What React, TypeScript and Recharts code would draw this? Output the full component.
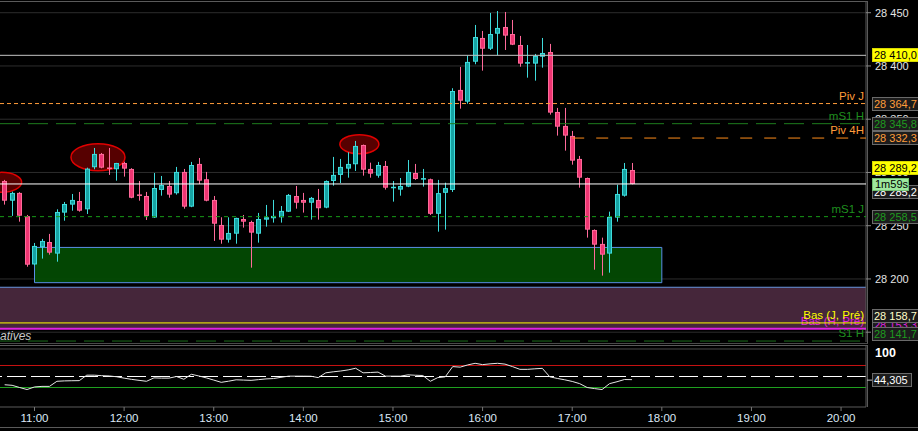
import React from "react";
import {
  ComposedChart,
  Bar,
  Line,
  XAxis,
  YAxis,
  CartesianGrid,
  ReferenceLine,
  ReferenceArea,
  ReferenceDot,
} from "recharts";

// 5-minute bars, first one at 10:40
const firstBar = "10:40";
const barStep = 5;

const opens = [
  28292.0, 28273.5, 28280.8, 28258.9, 28213.6, 28229.8, 28234.7, 28223.8, 28262.3, 28269.8,
  28273.2, 28265.4, 28304.9, 28317.4, 28304.2, 28303.0, 28308.9, 28303.3, 28278.9, 28277.9,
  28257.7, 28283.6, 28287.3, 28280.5, 28300.5, 28267.9, 28308.0, 28293.6, 28274.2, 28250.7,
  28236.9, 28242.5, 28256.3, 28253.5, 28242.5, 28255.7, 28257.0, 28257.9, 28263.2, 28277.9,
  28274.2, 28271.6, 28274.2, 28267.0, 28292.0, 28297.7, 28303.6, 28307.7, 28325.8, 28303.3,
  28297.0, 28306.1, 28285.7, 28283.9, 28286.7, 28299.5, 28293.6, 28293.6, 28261.2, 28280.9,
  28283.6, 28377.5, 28366.5, 28404.0, 28426.3, 28416.2, 28430.3, 28436.6, 28430.0, 28419.7,
  28402.5, 28402.2, 28408.7, 28413.1, 28356.8, 28343.7, 28334.3, 28312.7, 28294.8, 28246.0,
  28232.9, 28223.8, 28257.6, 28278.2, 28302.3,
];
const highs = [
  28293.0, 28282.0, 28281.5, 28260.1, 28233.8, 28237.6, 28242.3, 28265.4, 28272.3, 28279.8,
  28281.7, 28304.5, 28323.0, 28318.3, 28323.0, 28309.0, 28310.1, 28304.0, 28292.0, 28281.7,
  28299.5, 28296.7, 28292.0, 28305.2, 28303.3, 28309.9, 28313.6, 28300.5, 28277.9, 28257.9,
  28257.9, 28257.5, 28260.1, 28254.7, 28262.0, 28269.5, 28274.2, 28268.5, 28279.8, 28287.3,
  28280.8, 28277.0, 28284.5, 28292.5, 28314.6, 28312.7, 28319.0, 28329.6, 28326.2, 28309.2,
  28309.9, 28310.8, 28292.0, 28294.8, 28311.7, 28308.0, 28303.3, 28294.2, 28293.0, 28290.4,
  28379.1, 28399.1, 28409.7, 28438.5, 28432.9, 28449.8, 28451.6, 28450.7, 28443.2, 28428.2,
  28419.7, 28411.3, 28426.3, 28420.7, 28360.6, 28360.6, 28339.0, 28315.5, 28295.2, 28246.5,
  28238.8, 28263.2, 28288.5, 28308.9, 28308.9,
];
const lows = [
  28269.8, 28259.2, 28253.8, 28211.5, 28212.8, 28219.1, 28222.8, 28216.2, 28254.7, 28264.1,
  28263.2, 28261.0, 28303.0, 28303.9, 28297.7, 28292.3, 28296.1, 28275.8, 28273.5, 28255.4,
  28257.3, 28278.2, 28276.3, 28279.2, 28266.0, 28267.4, 28289.2, 28272.9, 28235.7, 28233.1,
  28234.1, 28233.1, 28248.2, 28210.6, 28234.1, 28249.1, 28252.9, 28252.9, 28262.9, 28266.0,
  28262.3, 28255.7, 28255.7, 28266.4, 28287.6, 28290.1, 28295.1, 28301.4, 28297.0, 28295.1,
  28295.1, 28283.9, 28272.6, 28278.2, 28286.2, 28293.0, 28286.7, 28260.1, 28244.4, 28246.3,
  28281.7, 28359.9, 28364.6, 28401.6, 28395.6, 28415.0, 28410.0, 28415.0, 28419.6, 28399.3,
  28389.0, 28386.2, 28398.4, 28354.3, 28334.6, 28320.5, 28307.3, 28285.7, 28238.8, 28208.7,
  28203.1, 28205.9, 28253.8, 28277.3, 28288.8,
];
const closes = [
  28273.5, 28280.8, 28259.4, 28213.4, 28231.0, 28235.7, 28224.7, 28262.9, 28270.4, 28274.2,
  28264.1, 28303.6, 28317.4, 28304.5, 28303.6, 28308.9, 28303.6, 28276.3, 28277.3, 28259.2,
  28285.4, 28288.3, 28279.2, 28300.5, 28267.9, 28307.0, 28292.3, 28273.5, 28251.9, 28236.9,
  28243.2, 28257.3, 28253.8, 28243.5, 28256.3, 28257.9, 28259.2, 28263.9, 28278.9, 28271.6,
  28271.6, 28276.1, 28266.4, 28292.0, 28297.7, 28305.2, 28308.0, 28324.9, 28302.6, 28298.9,
  28307.0, 28285.7, 28286.1, 28287.3, 28300.5, 28293.9, 28294.2, 28261.2, 28280.6, 28285.3,
  28376.5, 28367.4, 28403.8, 28427.2, 28416.2, 28430.0, 28435.7, 28428.5, 28420.0, 28402.2,
  28403.1, 28409.4, 28412.2, 28356.2, 28343.0, 28334.6, 28311.1, 28295.1, 28246.3, 28232.2,
  28222.8, 28258.2, 28279.8, 28303.3, 28289.2,
];

// oscillator in the lower pane
const oscValues = [
  35, 34, 30, 26.3, 31, 32, 32, 41.3, 42, 42.3,
  42.5, 52.4, 52.4, 51.5, 51, 49.5, 47, 44.8, 43, 41.3,
  47.5, 47, 47, 50, 45, 54, 51, 47.5, 43.5, 39.4,
  41.5, 44, 43.5, 43, 44.3, 45.6, 46.3, 48.5, 50.6, 50.6,
  50.6, 50.5, 48, 56.7, 58.5, 60, 62, 65, 56.7, 57.3,
  58, 50.6, 50.6, 50.6, 53, 52.3, 51.8, 41.3, 48, 49.4,
  68, 67, 71, 74, 71.6, 73, 74, 72.5, 68, 63,
  63, 64, 64.8, 49.4, 46.5, 44, 41, 37, 30, 28,
  26.3, 37, 40.5, 44.5, 44.305,
];
const oscLevels = [100, 70, 50, 30];
const oscLast = "44,305";

const hourTicks = [660, 720, 780, 840, 900, 960, 1020, 1080, 1140, 1200];
const hourLabels = ["11:00", "12:00", "13:00", "14:00", "15:00", "16:00", "17:00", "18:00", "19:00", "20:00"];
const priceTicks = [28150, 28200, 28250, 28300, 28350, 28400, 28450];

// horizontal levels, drawn in this order
const levelValues = [28410.0, 28364.7, 28345.8, 28332.3, 28289.2, 28258.5, 28153.3, 28158.7, 28141.7];
const levelNames = ["", "Piv J", "mS1 H", "Piv 4H", "", "mS1 J", "Bas (H, Pré)", "Bas (J, Pré)", "S1 H"];
const pivot4hStart = 1020;
const countdownText = "1m59s";
const hiddenTagText = "28 285,2";

// zones
const supportZone = { from: 660, to: 1080, low: 28196.5, high: 28229.6 };
const prevLowZone = { low: 28153.3, high: 28192.2 };

// circled highs
const haloTimes = [638, 702.5, 877.5];
const haloPrices = [28290.7, 28314.3, 28326.5];
const haloSizes = [[20, 10], [27, 13.5], [19.5, 9.5]];

const X_DOMAIN = [636.9, 1216.7];
const Y_DOMAIN = [28140.8, 28461.0];
const OSC_DOMAIN = [-5.45, 105.45];

const FONT = '"Liberation Sans", Arial, sans-serif';
const UP_FILL = "#16a3a3";
const UP_EDGE = "#3fdcdc";
const DN_FILL = "#ee3572";
const DN_EDGE = "#ff6a9a";
const TAG_BG = "#1c1c1c";
const TAG_BORDER = "#6a6a6a";
const MAIN_MARGIN = { top: 1, right: 0, bottom: 2, left: 0 };

const levelStyles = [
  { stroke: "#c4c4c4", dash: undefined, width: 1, name: "", tagBg: "#ffff00", tagFg: "#000", tagDy: 0 },
  { stroke: "#ff9c3a", dash: "4 3", width: 1, name: "#ff9c3a", tagBg: TAG_BG, tagFg: "#ff9c3a", tagDy: 0 },
  { stroke: "#1d7d1d", dash: "20 8", width: 1, name: "#1f8f1f", tagBg: TAG_BG, tagFg: "#1f9a1f", tagDy: 0 },
  { stroke: "#ff8c1a", dash: "12 12", width: 1, name: "#ff9c3a", tagBg: TAG_BG, tagFg: "#ff9c3a", tagDy: 0 },
  { stroke: "#ffffff", dash: undefined, width: 1, name: "", tagBg: "#ffff00", tagFg: "#000", tagDy: -16 },
  { stroke: "#179a17", dash: "4 4", width: 1, name: "#1f8f1f", tagBg: TAG_BG, tagFg: "#1f9a1f", tagDy: 0 },
  { stroke: "#e020e0", dash: undefined, width: 2, name: "#e020e0", tagBg: TAG_BG, tagFg: "#e020e0", tagDy: -4 },
  { stroke: "#ffff00", dash: undefined, width: 1, name: "#ffff00", tagBg: TAG_BG, tagFg: "#ffffc8", tagDy: -7 },
  { stroke: "#1d6e1d", dash: "20 8", width: 1, name: "#1f8f1f", tagBg: TAG_BG, tagFg: "#1f9a1f", tagDy: -7 },
];

const oscLineStyles = [
  { stroke: "#4a4a4a", dash: undefined, width: 1 },
  { stroke: "#c81212", dash: undefined, width: 1 },
  { stroke: "#ffffff", dash: "19 5", width: 1 },
  { stroke: "#1fa01f", dash: undefined, width: 1 },
];

const toMin = (s: string) => {
  const [h, m] = s.split(":").map(Number);
  return h * 60 + m;
};
const start = toMin(firstBar);

const candles = opens.map((o, i) => ({
  t: start + i * barStep,
  open: o,
  high: highs[i],
  low: lows[i],
  close: closes[i],
  range: [lows[i], highs[i]],
}));
const oscData = oscValues.map((v, i) => ({ t: start + i * barStep, osc: v }));

const fmtPrice = (v: number) => {
  const th = Math.floor(v / 1000);
  const rest = (v - th * 1000).toFixed(1).replace(".", ",");
  return `${th} ${rest.padStart(5, "0")}`;
};
const fmtTick = (v: number) => `${Math.floor(v / 1000)} ${String(v % 1000).padStart(3, "0")}`;

function Candle(props: any) {
  const { x, y, width, height, payload } = props;
  if (!payload) return null;
  const { open, close, high, low } = payload;
  const top = Math.min(y, y + height);
  const bot = Math.max(y, y + height);
  const k = high > low ? (bot - top) / (high - low) : 0;
  const py = (p: number) => top + (high - p) * k;
  const up = close >= open;
  const cx = Math.round(x + width / 2) + 0.5;
  const bTop = py(Math.max(open, close));
  const bBot = py(Math.min(open, close));
  const h = bBot - bTop;
  const edge = up ? UP_EDGE : DN_EDGE;
  return (
    <g>
      <line x1={cx} x2={cx} y1={top} y2={bot} stroke={edge} strokeWidth={1} />
      {h < 2 ? (
        <rect x={cx - 2.5} y={bTop - 0.5} width={5} height={1.5} fill={edge} />
      ) : (
        <rect
          x={cx - 2}
          y={bTop + 0.5}
          width={4}
          height={h - 1}
          fill={up ? UP_FILL : DN_FILL}
          stroke={edge}
          strokeWidth={1}
        />
      )}
    </g>
  );
}

function Tag({ x, cy, w = 46, text, bg, fg }: any) {
  const top = Math.round(cy - 7) + 0.5;
  return (
    <g>
      <rect x={x + 0.5} y={top} width={w} height={13} fill={bg} stroke={bg === "#ffff00" ? "#d8d800" : TAG_BORDER} />
      <text x={x + 2} y={cy + 4} fill={fg} fontSize={11} fontFamily={FONT}>
        {text}
      </text>
    </g>
  );
}

function LevelLabel(props: any) {
  const { viewBox, idx } = props;
  if (!viewBox) return null;
  const right = viewBox.x + viewBox.width;
  const ly = viewBox.y;
  const st = levelStyles[idx];
  const name = levelNames[idx];
  const tx = right + 6;
  const isLast = idx === 4;
  return (
    <g>
      {name ? (
        <text x={right - 2} y={ly - 4} textAnchor="end" fill={st.name} fontSize={11.5} fontFamily={FONT}>
          {name}
        </text>
      ) : null}
      {isLast ? <Tag x={tx} cy={ly + 8} text={hiddenTagText} bg={TAG_BG} fg="#ffffff" /> : null}
      {isLast ? (
        <g>
          <rect x={tx + 0.5} y={Math.round(ly - 6) + 0.5} width={36} height={12} fill="#9ee89e" stroke="#70c070" />
          <text x={tx + 3} y={ly + 4} fill="#000" fontSize={11} fontFamily={FONT}>
            {countdownText}
          </text>
        </g>
      ) : null}
      <Tag x={tx} cy={ly + st.tagDy} text={fmtPrice(levelValues[idx])} bg={st.tagBg} fg={st.tagFg} />
    </g>
  );
}

function OscTag(props: any) {
  const { viewBox } = props;
  if (!viewBox) return null;
  const right = viewBox.x + viewBox.width;
  return (
    <g>
      <line x1={right + 1} x2={right + 6} y1={viewBox.y + 0.5} y2={viewBox.y + 0.5} stroke="#bbbbbb" />
      <Tag x={right + 6} cy={viewBox.y} w={39} text={oscLast} bg={TAG_BG} fg="#ffffff" />
    </g>
  );
}

function HundredTick(props: any) {
  const { x, y, payload } = props;
  return (
    <text x={x} y={y + 8} fill="#ffffff" fontSize={12.5} fontWeight="bold" fontFamily={FONT}>
      {payload.value}
    </text>
  );
}

const halo = (rx: number, ry: number) => (p: any) => (
  <ellipse cx={p.cx} cy={p.cy} rx={rx} ry={ry} fill="#560000" stroke="#e00000" strokeWidth={1.5} />
);

const layer: React.CSSProperties = { position: "absolute", left: 0, top: 0 };

export default function App() {
  return (
    <div
      style={{
        position: "absolute",
        left: 0,
        top: 0,
        width: 918,
        height: 431,
        background: "#000",
        overflow: "hidden",
        fontFamily: FONT,
      }}
    >
      {/* frames */}
      <div style={{ position: "absolute", left: 0, top: 1, width: 867, height: 341, borderTop: "1px solid #5a5a5a", borderRight: "1px solid #5a5a5a", borderBottom: "1px solid #4a4a4a" }} />
      <div style={{ position: "absolute", left: 0, top: 345, width: 867, height: 61, borderTop: "1px solid #5a5a5a", borderRight: "1px solid #5a5a5a" }} />
      <div style={{ position: "absolute", left: 0, top: 427, width: 918, height: 0, borderTop: "1px solid #5a5a5a" }} />

      {/* under: grid, zones, circled highs */}
      <div style={layer}>
        <ComposedChart width={918} height={344} data={candles} margin={{ ...MAIN_MARGIN, right: 52 }}>
          <CartesianGrid horizontal vertical={false} stroke="#2c2c2c" horizontalValues={priceTicks} />
          <XAxis dataKey="t" type="number" domain={X_DOMAIN} allowDataOverflow hide />
          <YAxis type="number" domain={Y_DOMAIN} allowDataOverflow ticks={priceTicks} hide />
          <ReferenceArea y1={prevLowZone.low} y2={prevLowZone.high} fill="#45263a" fillOpacity={1} stroke="none" />
          <ReferenceLine y={prevLowZone.high} stroke="#6a96e0" />
          <ReferenceArea
            x1={supportZone.from}
            x2={supportZone.to}
            y1={supportZone.low}
            y2={supportZone.high}
            fill="#034c03"
            fillOpacity={0.92}
            stroke="#5a8ee6"
            strokeWidth={1}
          />
          {haloTimes.map((t, i) => (
            <ReferenceDot key={"h" + i} x={t} y={haloPrices[i]} r={1} shape={halo(haloSizes[i][0], haloSizes[i][1])} />
          ))}
        </ComposedChart>
      </div>

      {/* candles and price axis */}
      <div style={layer}>
        <ComposedChart width={918} height={344} data={candles} margin={MAIN_MARGIN}>
          <XAxis dataKey="t" type="number" domain={X_DOMAIN} allowDataOverflow hide />
          <YAxis
            orientation="right"
            width={52}
            type="number"
            domain={Y_DOMAIN}
            allowDataOverflow
            ticks={priceTicks}
            interval={0}
            tickFormatter={fmtTick}
            tick={{ fill: "#e4e4e4", fontSize: 11, fontFamily: FONT }}
            tickSize={5}
            tickMargin={4}
            tickLine={{ stroke: "#888" }}
            axisLine={{ stroke: "#5a5a5a" }}
          />
          <Bar dataKey="range" barSize={5} shape={<Candle />} isAnimationActive={false} />
        </ComposedChart>
      </div>

      {/* levels and price tags on top */}
      <div style={layer}>
        <ComposedChart width={918} height={344} data={candles} margin={{ ...MAIN_MARGIN, right: 52 }}>
          <XAxis dataKey="t" type="number" domain={X_DOMAIN} allowDataOverflow hide />
          <YAxis type="number" domain={Y_DOMAIN} allowDataOverflow hide />
          {levelValues.map((v, i) => {
            const st = levelStyles[i];
            if (i === 3) {
              return (
                <ReferenceLine
                  key={"l" + i}
                  segment={[{ x: pivot4hStart, y: v }, { x: X_DOMAIN[1], y: v }]}
                  stroke={st.stroke}
                  strokeDasharray={st.dash}
                  strokeWidth={st.width}
                  label={<LevelLabel idx={i} />}
                />
              );
            }
            return (
              <ReferenceLine
                key={"l" + i}
                y={v}
                stroke={st.stroke}
                strokeDasharray={st.dash}
                strokeWidth={st.width}
                label={<LevelLabel idx={i} />}
              />
            );
          })}
        </ComposedChart>
      </div>

      <div
        style={{
          position: "absolute",
          left: 0,
          top: 329,
          height: 14,
          fontStyle: "italic",
          fontSize: 12,
          lineHeight: "14px",
          color: "#c8c8c8",
          fontFamily: FONT,
        }}
      >
        atives
      </div>

      {/* oscillator pane */}
      <div style={{ position: "absolute", left: 0, top: 346 }}>
        <ComposedChart width={918} height={85} data={oscData} margin={{ top: 0, right: 0, bottom: 0, left: 0 }}>
          <XAxis
            dataKey="t"
            type="number"
            domain={X_DOMAIN}
            allowDataOverflow
            ticks={hourTicks}
            interval={0}
            tickFormatter={(v: number) => hourLabels[hourTicks.indexOf(v)]}
            height={24}
            tick={{ fill: "#dce8f6", fontSize: 11.5, fontFamily: FONT }}
            tickSize={4}
            tickMargin={3}
            tickLine={{ stroke: "#777" }}
            axisLine={{ stroke: "#5a5a5a" }}
          />
          <YAxis
            orientation="right"
            width={52}
            type="number"
            domain={OSC_DOMAIN}
            allowDataOverflow
            ticks={[100]}
            interval={0}
            tick={<HundredTick />}
            tickSize={5}
            tickMargin={4}
            tickLine={false}
            axisLine={{ stroke: "#5a5a5a" }}
          />
          {oscLevels.map((v, i) => (
            <ReferenceLine
              key={"o" + i}
              y={v}
              stroke={oscLineStyles[i].stroke}
              strokeWidth={oscLineStyles[i].width}
              strokeDasharray={oscLineStyles[i].dash}
            />
          ))}
          <Line
            dataKey="osc"
            type="linear"
            stroke="#e6e6e6"
            strokeWidth={1}
            dot={false}
            isAnimationActive={false}
          />
          <ReferenceLine y={oscValues[oscValues.length - 1]} stroke="none" label={<OscTag />} />
        </ComposedChart>
      </div>
    </div>
  );
}
